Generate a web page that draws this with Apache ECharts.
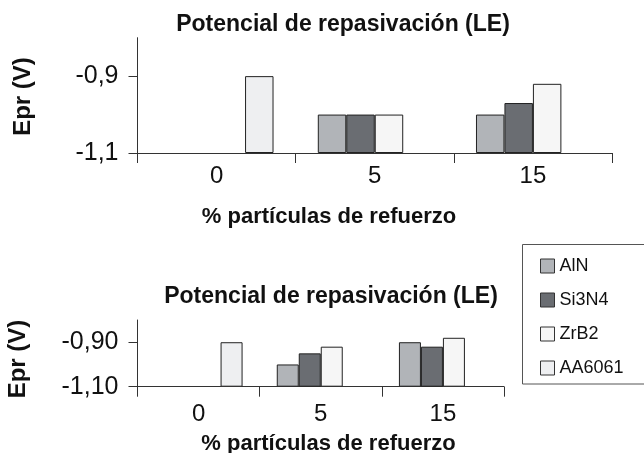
<!DOCTYPE html>
<html>
<head>
<meta charset="utf-8">
<script src="https://cdn.jsdelivr.net/npm/echarts@6/dist/echarts.min.js"></script>
<style>html,body{margin:0;padding:0;background:#fff;}#c{width:644px;height:453px;}</style>
</head>
<body>
<div id="c"></div>
<script>
var categories = ['0', '5', '15'];
var seriesNames = ['AlN', 'Si3N4', 'ZrB2', 'AA6061'];
var topAlN = [null, -1.00, -1.00];
var topSi3N4 = [null, -1.00, -0.97];
var topZrB2 = [null, -1.00, -0.92];
var topAA6061 = [-0.90, null, null];
var botAlN = [null, -1.00, -0.90];
var botSi3N4 = [null, -0.95, -0.92];
var botZrB2 = [null, -0.92, -0.88];
var botAA6061 = [-0.90, null, null];
var topYTicks = [-1.1, -0.9];
var botYTicks = [-1.1, -0.9];
var titleText = 'Potencial de repasivación (LE)';
var xName = '% partículas de refuerzo';
var yName = 'Epr (V)';

var colors = ['#b1b4b8', '#6a6d72', '#f6f6f6', '#eeeff1'];
var FONT = '"Liberation Sans", Arial, sans-serif';
var chart = echarts.init(document.getElementById('c'));

function mkSeries(data, gridIdx) {
  return data.map(function (d, i) {
    return {
      type: 'bar', name: seriesNames[i], xAxisIndex: gridIdx, yAxisIndex: gridIdx,
      data: d, barGap: '0%', barCategoryGap: '28%',
      itemStyle: { color: colors[i], borderColor: '#222', borderWidth: 1 },
      emphasis: { disabled: true }, animation: false
    };
  });
}

function yAxisCfg(gridIdx, ticks, digits, fs) {
  return {
    type: 'value', gridIndex: gridIdx, min: -1.1, max: -0.8, startValue: -1.1,
    splitLine: { show: false },
    axisLine: { show: true, lineStyle: { color: '#333', width: 1 } },
    axisTick: { show: true, length: 9, customValues: ticks, lineStyle: { color: '#333' } },
    axisLabel: { customValues: ticks, margin: 19, fontSize: fs, fontFamily: FONT, color: '#111',
      formatter: function (v) { return v.toFixed(digits).replace('.', ','); } }
  };
}
function xAxisCfg(gridIdx, margin) {
  return {
    type: 'category', gridIndex: gridIdx, data: categories,
    axisLine: { show: true, lineStyle: { color: '#333', width: 1 } },
    axisTick: { show: true, length: 10, lineStyle: { color: '#333' } },
    axisLabel: { margin: margin, fontSize: 24, fontFamily: FONT, color: '#111' }
  };
}

var txt = function (x, y, s, fs, rot) {
  return { type: 'text', x: x, y: y, rotation: rot || 0,
    style: { text: s, fontSize: fs, fontWeight: 'bold', fontFamily: FONT, fill: '#111', align: 'center', verticalAlign: 'middle' } };
};

chart.setOption({
  animation: false,
  grid: [
    { left: 137.5, width: 474.5, top: 37.7, height: 115.3 },
    { left: 137.5, width: 366.5, top: 320, height: 66.7 }
  ],
  xAxis: [xAxisCfg(0, 11), xAxisCfg(1, 16)],
  yAxis: [yAxisCfg(0, topYTicks, 1, 25), yAxisCfg(1, botYTicks, 2, 25)],
  legend: {
    orient: 'vertical', left: 535, top: 252, itemWidth: 14, itemHeight: 14, itemGap: 16,
    icon: 'rect', data: seriesNames,
    itemStyle: { borderColor: '#333', borderWidth: 1 },
    textStyle: { fontSize: 18, fontFamily: FONT, color: '#111' }
  },
  graphic: [
    { type: 'rect', shape: { x: 522.5, y: 244.5, width: 140, height: 139.5 }, style: { fill: 'none', stroke: '#555', lineWidth: 1 } },
    txt(343, 25, titleText, 23),
    txt(329, 217, xName, 22),
    txt(23.5, 96.5, yName, 24, Math.PI / 2),
    txt(331, 297, titleText, 23),
    txt(328.5, 443.5, xName, 22),
    txt(18, 359, yName, 24, Math.PI / 2)
  ],
  series: mkSeries([topAlN, topSi3N4, topZrB2, topAA6061], 0)
    .concat(mkSeries([botAlN, botSi3N4, botZrB2, botAA6061], 1))
});
</script>
</body>
</html>
